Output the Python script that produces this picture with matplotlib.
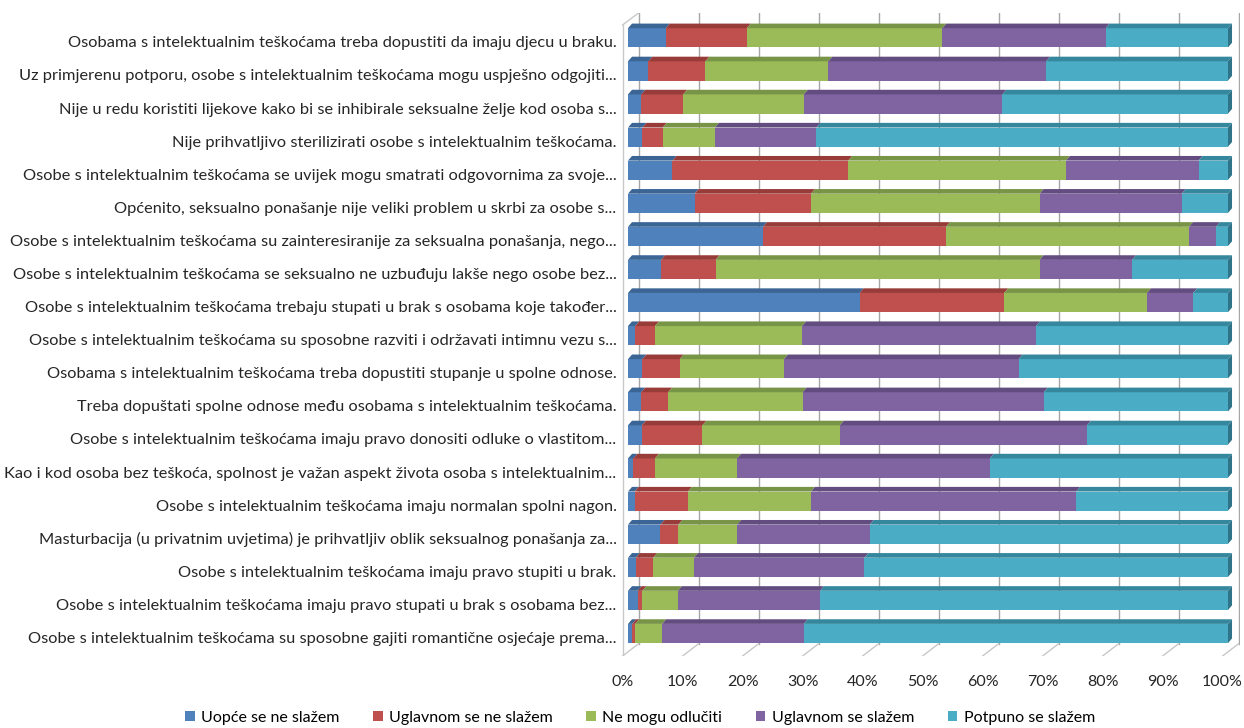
import matplotlib.pyplot as plt
from matplotlib.patches import Polygon
import matplotlib.transforms as mtransforms
import numpy as np

# pitanja (odozgo prema dolje)
questions = [
    "Osobama s intelektualnim teškoćama treba dopustiti da imaju djecu u braku.",
    "Uz primjerenu potporu, osobe s intelektualnim teškoćama mogu uspješno odgojiti...",
    "Nije u redu koristiti lijekove kako bi se inhibirale seksualne želje kod osoba s...",
    "Nije prihvatljivo sterilizirati osobe s intelektualnim teškoćama.",
    "Osobe s intelektualnim teškoćama se uvijek mogu smatrati odgovornima za svoje...",
    "Općenito, seksualno ponašanje nije veliki problem u skrbi za osobe s...",
    "Osobe s intelektualnim teškoćama su zainteresiranije za seksualna ponašanja, nego...",
    "Osobe s intelektualnim teškoćama se seksualno ne uzbuđuju lakše nego osobe bez...",
    "Osobe s intelektualnim teškoćama trebaju stupati u brak s osobama koje također...",
    "Osobe s intelektualnim teškoćama su sposobne razviti i održavati intimnu vezu s...",
    "Osobama s intelektualnim teškoćama treba dopustiti stupanje u spolne odnose.",
    "Treba dopuštati spolne odnose među osobama s intelektualnim teškoćama.",
    "Osobe s intelektualnim teškoćama imaju pravo donositi odluke o vlastitom...",
    "Kao i kod osoba bez teškoća, spolnost je važan aspekt života osoba s intelektualnim...",
    "Osobe s intelektualnim teškoćama imaju normalan spolni nagon.",
    "Masturbacija (u privatnim uvjetima) je prihvatljiv oblik seksualnog ponašanja za...",
    "Osobe s intelektualnim teškoćama imaju pravo stupiti u brak.",
    "Osobe s intelektualnim teškoćama imaju pravo stupati u brak s osobama bez...",
    "Osobe s intelektualnim teškoćama su sposobne gajiti romantične osjećaje prema...",
]

# postoci
uopce_ne = [6.3, 3.4, 2.2, 2.4, 7.4, 11.1, 22.5, 5.5, 38.6, 1.2, 2.4, 2.2, 2.3, 0.9, 1.1, 5.4, 1.3, 1.6, 0.7]
uglavnom_ne = [13.5, 9.5, 7.0, 3.4, 29.3, 19.4, 30.5, 9.1, 24.1, 3.3, 6.2, 4.5, 10.1, 3.6, 8.9, 3.0, 2.9, 0.8, 0.5]
ne_mogu = [32.6, 20.5, 20.1, 8.7, 36.3, 38.1, 40.5, 54.0, 23.8, 24.5, 17.4, 22.4, 22.9, 13.7, 20.5, 9.8, 6.8, 5.9, 4.5]
uglavnom_da = [27.2, 36.3, 33.1, 16.9, 22.1, 23.7, 4.5, 15.4, 7.7, 39.0, 39.1, 40.2, 41.2, 42.1, 44.2, 22.1, 28.4, 23.7, 23.6]
potpuno_da = [20.4, 30.3, 37.6, 68.6, 4.9, 7.7, 2.0, 16.0, 5.8, 32.0, 34.9, 30.7, 23.5, 39.7, 25.3, 59.7, 60.6, 68.0, 70.7]

series_names = ["Uopće se ne slažem", "Uglavnom se ne slažem", "Ne mogu odlučiti",
                "Uglavnom se slažem", "Potpuno se slažem"]
colors = ["#4F81BD", "#C0504D", "#9BBB59", "#8064A2", "#4BACC6"]
top_colors = ["#3A6595", "#983C3A", "#789446", "#634D80", "#35879E"]
side_color = "#2F7489"

plt.rcParams['font.family'] = ['Lato', 'DejaVu Sans']

fig = plt.figure(figsize=(12.44, 7.28), dpi=100)
ax = fig.add_axes([618/1244, 1-656/728, 622/1244, 643/728])
ax.set_xlim(-10/6, 102)
ax.set_ylim(18.68, -0.75)

n = len(questions)
y = np.arange(n)
h = 0.58
dx = 0.67
dy = 0.14

# zidovi i mreza (3d izgled)
grid_c = "#a6a6a6"
wall_c = "#c8c8c8"
for k in range(11):
    xb = 10*k + 1.75
    xf = 10*k - 0.9
    ax.plot([xb, xb], [-0.75, 18.31], color=grid_c, lw=1, zorder=1)
    ax.plot([xf, xb], [18.68, 18.31], color=wall_c, lw=1, zorder=1)
ax.plot([-0.9, -0.9], [-0.39, 18.68], color=wall_c, lw=1, zorder=1)
ax.plot([-0.9, 1.75], [-0.39, -0.75], color=wall_c, lw=1, zorder=1)

all_vals = [uopce_ne, uglavnom_ne, ne_mogu, uglavnom_da, potpuno_da]
left = np.zeros(n)
for j, vals in enumerate(all_vals):
    vals = np.array(vals)
    ax.barh(y, vals, left=left, height=h, color=colors[j], edgecolor='none',
            label=series_names[j], zorder=3)
    for i in range(n):
        l = left[i]
        r = left[i] + vals[i]
        t = i - h/2
        ax.add_patch(Polygon([(l, t), (r, t), (r+dx, t-dy), (l+dx, t-dy)],
                             closed=True, color=top_colors[j], lw=0, zorder=3))
    left = left + vals

for i in range(n):
    t = i - h/2
    r = left[i]
    ax.add_patch(Polygon([(r, t), (r+dx, t-dy), (r+dx, t+h-dy), (r, t+h)],
                         closed=True, color=side_color, lw=0, zorder=3))

for s in ax.spines.values():
    s.set_visible(False)

ax.set_yticks(y)
ax.set_yticklabels(questions, fontsize=11.8, color="#262626")
ax.tick_params(axis='y', length=0, pad=1)
offset = mtransforms.ScaledTranslation(0, -4/100, fig.dpi_scale_trans)
for lab in ax.get_yticklabels():
    lab.set_transform(lab.get_transform() + offset)

ax.set_xticks([10*k - 0.9 for k in range(11)])
ax.set_xticklabels([f"{10*k}%" for k in range(11)], fontsize=11.5, color="#262626")
ax.tick_params(axis='x', length=0, pad=14)

fig.legend(loc='center', bbox_to_anchor=(640/1244, 1-718/728), ncol=5, frameon=False,
           fontsize=11.5, handlelength=0.6, handleheight=0.6, handletextpad=0.4,
           columnspacing=2.1)

plt.savefig("out.png", dpi=100)
